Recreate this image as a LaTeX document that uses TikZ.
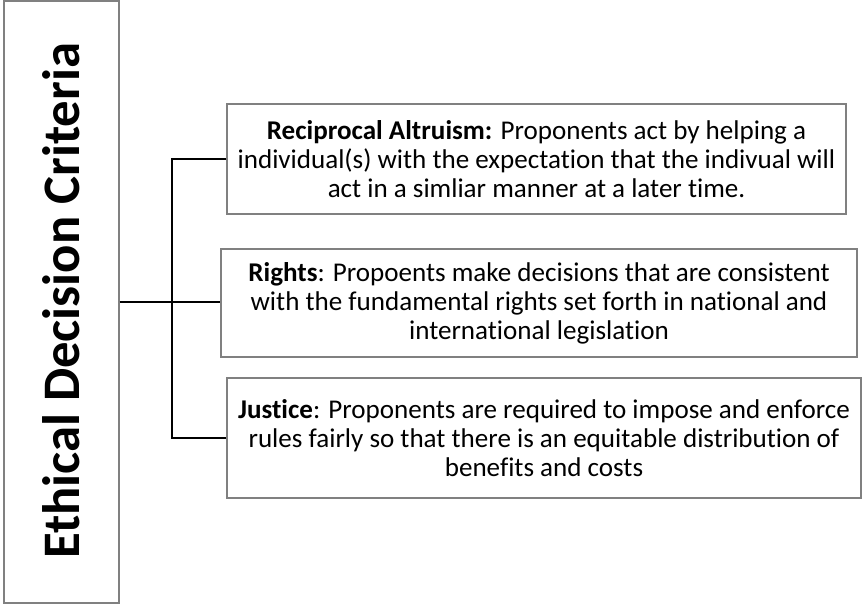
\documentclass[tikz,border=0pt]{standalone}
\usepackage{fontspec}
\setmainfont{Carlito}[Ligatures=NoCommon]
\usepackage{tikz}
\usetikzlibrary{positioning,calc}
\definecolor{boxgray}{RGB}{128,128,128}

\begin{document}
\begin{tikzpicture}[
	framebox/.style={draw=boxgray,line width=0.6pt,minimum width=2.3cm,minimum height=12.04cm,inner sep=0pt},
	critbox/.style={draw=boxgray,line width=0.6pt,align=center,inner sep=0pt,font=\fontsize{15.4}{16.6}\selectfont},
	link/.style={line width=1.5pt,black}]
	\useasboundingbox (0,0) rectangle (17.26,12.08);
	% left frame with the vertical title
	\node[framebox] (frame) at (1.23,6.04) {};
	\node[rotate=90,font=\fontsize{30}{34}\selectfont\bfseries] (title) at (1.22,6.06) {Ethical Decision Criteria};
	% the three criteria
	\node[critbox,minimum width=12.38cm,minimum height=2.2cm] (altruism) at (10.73,8.90)
		{\textbf{Reciprocal Altruism:} Proponents act by helping a\\individual(s) with the expectation that the indivual will\\act in a simliar manner at a later time.};
	\node[critbox,minimum width=12.72cm,minimum height=2.16cm] (rights) at (10.78,6.02)
		{\textbf{Rights}: Propoents make decisions that are consistent\\with the fundamental rights set forth in national and\\international legislation};
	\node[critbox,minimum width=12.68cm,minimum height=2.4cm] (justice) at (10.88,3.32)
		{\textbf{Justice}: Proponents are required to impose and enforce\\rules fairly so that there is an equitable distribution of\\benefits and costs};
	% connectors
	\coordinate (spine) at (3.44,6.04);
	\draw[link] (frame.east |- spine) -- (rights.west |- spine);
	\draw[link] (altruism.west) -| (spine |- justice.west) -- (justice.west);
\end{tikzpicture}
\end{document}
